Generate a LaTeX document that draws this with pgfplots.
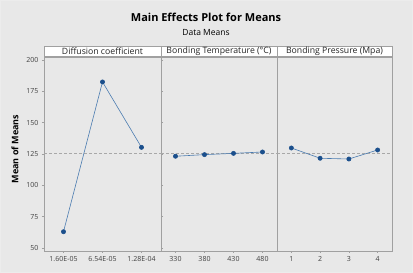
\documentclass[border=0pt]{standalone}
\usepackage{pgfplots}
\pgfplotsset{compat=1.18}
\usepackage{fontspec}
\setmainfont{Open Sans}
\definecolor{bgc}{HTML}{E8E8E8}
\definecolor{framec}{HTML}{A0A0A0}
\definecolor{linec}{HTML}{4A7BB0}
\definecolor{markc}{HTML}{1B4F8C}
\definecolor{refc}{HTML}{A8A8A8}

\pgfplotsset{
  every axis title shift=0pt,
  panel/.style={
    scale only axis, height=194pt,
    ymin=47.6, ymax=202.4,
    xmin=-0.5,
    axis line style={framec, line width=0.6pt},
    tick style={framec, line width=0.5pt},
    tick align=outside, major tick length=2pt,
    ticklabel style={font=\fontsize{7}{8}\selectfont, text=black!75},
    /pgf/number format/assume math mode=true,
    title style={draw=framec, line width=0.6pt, fill=white, inner sep=0pt,
      minimum height=10.5pt, anchor=south, at={(0.5,1)},
      font=\fontsize{8.7}{9}\selectfont, text=black!85},
    every axis plot/.append style={line width=0.6pt},
  },
  means/.style={color=linec, mark=*, mark size=2.1pt,
    mark options={fill=markc, draw=markc}},
  grand/.style={refc, dashed, line width=0.5pt, dash pattern=on 3pt off 2pt},
}

\begin{document}
\begin{tikzpicture}[x=1pt, y=1pt]
\fill[bgc] (0,0) rectangle (413,273);
\draw[white!85!gray, line width=1pt] (0.5,0.5) rectangle (412.5,272.5);
\path[use as bounding box] (0,0) rectangle (413,273);

\node[font=\bfseries\fontsize{11}{12}\selectfont] at (206,256) {Main Effects Plot for Means};
\node[font=\fontsize{8.5}{9}\selectfont] at (206,240) {Data Means};
\node[rotate=90, font=\bfseries\fontsize{9}{10}\selectfont] at (15,124) {Mean of Means};

% Diffusion coefficient
\begin{axis}[panel, at={(44pt,22pt)}, anchor=south west, width=117pt,
  xmax=2.5, xtick={0,1,2}, xticklabels={1.60E-05,6.54E-05,1.28E-04},
  ytick={50,75,...,200},
  title style={minimum width=117pt},
  title={Diffusion coefficient}]
  \addplot[grand, forget plot] coordinates {(-0.5,125.3) (2.5,125.3)};
  \addplot[means] coordinates {(0,63.0) (1,182.5) (2,130.3)};
\end{axis}

% Bonding temperature
\begin{axis}[panel, at={(161pt,22pt)}, anchor=south west, width=116pt,
  xmax=3.5, xtick={0,1,2,3}, xticklabels={330,380,430,480},
  ytick=\empty,
  title style={minimum width=116pt},
  title={Bonding Temperature (°C)}]
  \addplot[grand, forget plot] coordinates {(-0.5,125.3) (3.5,125.3)};
  \addplot[means] coordinates {(0,123.2) (1,124.5) (2,125.5) (3,126.6)};
\end{axis}

% Bonding pressure
\begin{axis}[panel, at={(277pt,22pt)}, anchor=south west, width=115pt,
  xmax=3.5, xtick={0,1,2,3}, xticklabels={1,2,3,4},
  ytick=\empty,
  title style={minimum width=115pt},
  title={Bonding Pressure (Mpa)}]
  \addplot[grand, forget plot] coordinates {(-0.5,125.3) (3.5,125.3)};
  \addplot[means] coordinates {(0,129.8) (1,121.6) (2,121.0) (3,128.2)};
\end{axis}
\end{tikzpicture}
\end{document}
